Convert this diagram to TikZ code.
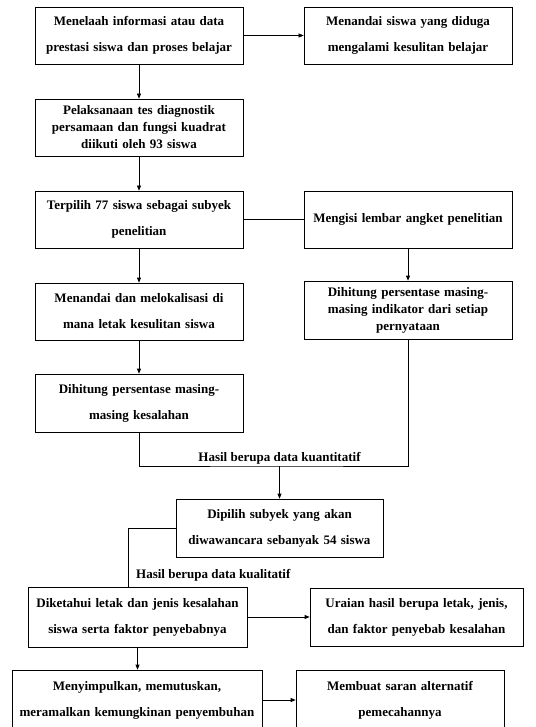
\documentclass[tikz,border=0pt]{standalone}
\usepackage{fontspec}
\setmainfont{Liberation Serif}
\usepackage{tikz}
\usetikzlibrary{arrows.meta}
\usetikzlibrary{positioning}

\begin{document}
\begin{tikzpicture}[
    x=1pt, y=-1pt,
    every node/.style={font=\bfseries\fontsize{13}{26}\selectfont},
    proses/.style={draw, line width=0.7pt, inner xsep=0pt, align=center, text width=#1, minimum height=57pt},
    proses/.default=208pt,
    rapat/.style={font=\bfseries\fontsize{13}{17}\selectfont},
    panah/.style={-{Triangle[length=5pt, width=4pt]}, line width=0.7pt},
    garis/.style={line width=0.7pt},
  ]
  \useasboundingbox (0,0) rectangle (535,727);

  % Left column
  \node[proses] (A) at (139, 35.5)  {Menelaah informasi atau data\\prestasi siswa dan proses belajar};
  \node[proses, rapat] (C) at (139, 127.5) {Pelaksanaan tes diagnostik\\persamaan dan fungsi kuadrat\\diikuti oleh 93 siswa};
  \node[proses] (D) at (139, 219.5) {Terpilih 77 siswa sebagai subyek\\penelitian};
  \node[proses] (F) at (139, 311.5) {Menandai dan melokalisasi di\\mana letak kesulitan siswa};
  \node[proses, minimum height=58pt] (H) at (139, 403) {Dihitung persentase masing-\\masing kesalahan};

  % Right column
  \node[proses] (B) at (408, 35.5)  {Menandai siswa yang diduga\\mengalami kesulitan belajar};
  \node[proses] (E) at (408, 219.5) {Mengisi lembar angket penelitian};
  \node[proses, rapat, minimum height=58pt] (G) at (408, 310) {Dihitung persentase masing-\\masing indikator dari setiap\\pernyataan};

  % Lower part
  \node[proses=207pt, minimum height=58pt] (I) at (279.5, 528) {Dipilih subyek yang akan\\diwawancara sebanyak 54 siswa};
  \node[proses=219pt, minimum height=60pt] (J) at (137.5, 617) {Diketahui letak dan jenis kesalahan\\siswa serta faktor penyebabnya};
  \node[proses=213pt, minimum height=58pt] (K) at (416.5, 617) {Uraian hasil berupa letak, jenis,\\dan faktor penyebab kesalahan};
  \node[proses=250pt, minimum height=60pt] (L) at (137, 700) {Menyimpulkan, memutuskan,\\meramalkan kemungkinan penyembuhan};
  \node[proses=208pt, minimum height=60pt] (M) at (400, 700) {Membuat saran alternatif\\pemecahannya};

  % Branch points
  \coordinate (kuan) at (279.5, 466);
  \node[anchor=south, inner sep=2pt] (kuanlabel) at (kuan) {Hasil berupa data kuantitatif};
  \node[anchor=west, inner sep=0pt] (kuallabel) at (136, 575) {Hasil berupa data kualitatif};

  % Edges
  \draw[panah, line width=0.4pt] (A.east) -- (B.west);
  \draw[panah] (A) -- (C);
  \draw[panah] (C) -- (D);
  \draw[garis] (D) -- (E);
  \draw[panah] (D) -- (F);
  \draw[panah] (E) -- (G);
  \draw[panah] (F) -- (H);
  \draw[garis] (H.south) |- (kuan) -| (G.south);
  \draw[panah] (kuan) -- (I.north);
  \draw[garis] (I.west) -| ([xshift=-9.5pt]J.north);
  \draw[panah] (J) -- (K);
  \draw[panah] (J.south) -- (J.south |- L.north);
  \draw[panah] (L) -- (M);

\end{tikzpicture}
\end{document}
